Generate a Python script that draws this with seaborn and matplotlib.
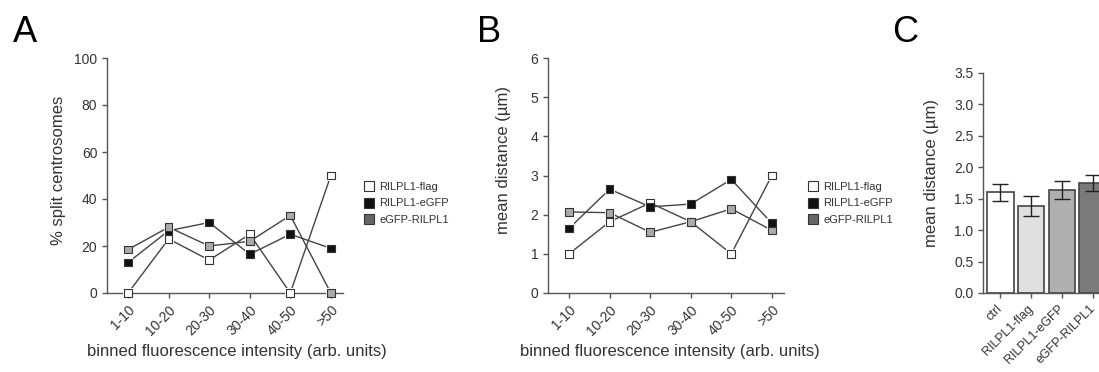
import numpy as np
import pandas as pd
import matplotlib
matplotlib.use("Agg")
import matplotlib.pyplot as plt
import matplotlib.transforms as mtransforms
from matplotlib.lines import Line2D
import seaborn as sns

# ---------------------------------------------------------------
# data
# ---------------------------------------------------------------
bins = ["1-10", "10-20", "20-30", "30-40", "40-50", ">50"]
series = ["RILPL1-flag", "RILPL1-eGFP", "eGFP-RILPL1"]

# panel A: % split centrosomes
pct_flag = [0, 23, 14, 25, 0, 50]
pct_egfp = [13, 26.5, 30, 16.5, 25, 19]
pct_gfp_n = [18.5, 28, 20, 22, 33, 0]

# panel B: mean distance (um)
dist_flag = [1.0, 1.82, 2.3, 1.82, 1.0, 3.0]
dist_egfp = [1.65, 2.65, 2.2, 2.27, 2.9, 1.78]
dist_gfp_n = [2.07, 2.05, 1.55, 1.82, 2.15, 1.6]

# panel C: mean distance per construct
conds = ["ctrl", "RILPL1-flag", "RILPL1-eGFP", "eGFP-RILPL1"]
means = [1.6, 1.38, 1.64, 1.75]
sems = [0.14, 0.16, 0.14, 0.12]

# ---------------------------------------------------------------
# style
# ---------------------------------------------------------------
sns.set_style("ticks")
plt.rcParams["font.family"] = ["Liberation Sans", "DejaVu Sans"]
TXT = "#333333"
SPINE = "#555555"
LINE = "#444444"
TICK_FS = 10
LABEL_FS = 12
marker_fill = {"RILPL1-flag": "white", "RILPL1-eGFP": "#111111", "eGFP-RILPL1": "#aaaaaa"}
legend_fill = ["white", "#111111", "#666666"]
bar_colors = ["white", "#e0e0e0", "#b0b0b0", "#7a7a7a"]

W, H = 1099, 372
fig = plt.figure(figsize=(W / 100, H / 100), dpi=100)


def long_df(a, b, c):
    return pd.DataFrame({
        "pos": list(range(len(bins))) * 3,
        "series": np.repeat(series, len(bins)),
        "value": list(a) + list(b) + list(c),
    })


def style_axes(ax):
    sns.despine(ax=ax)
    for s in ["left", "bottom"]:
        ax.spines[s].set_color(SPINE)
        ax.spines[s].set_linewidth(1.0)
    ax.tick_params(colors=SPINE, labelcolor=TXT, labelsize=TICK_FS, length=3.5, width=1.0)


def line_panel(ax, df, ylim, yticks, ylabel, ylab_xy, legend_left):
    sns.lineplot(data=df, x="pos", y="value", units="series", estimator=None,
                 color=LINE, lw=1.0, sort=False, ax=ax, zorder=2)
    # white halo so lines stop a little short of the markers
    sns.scatterplot(data=df, x="pos", y="value", color="white", marker="s", s=55,
                    linewidth=0, legend=False, ax=ax, zorder=3, clip_on=False)
    sns.scatterplot(data=df, x="pos", y="value", hue="series", palette=marker_fill,
                    marker="s", s=30, edgecolor="#333333", linewidth=0.8,
                    legend=False, ax=ax, zorder=4, clip_on=False)
    ax.set_xlim(-0.52, 5.3)
    ax.set_ylim(*ylim)
    ax.set_yticks(yticks)
    ax.set_xticks(range(len(bins)))
    ax.set_xticklabels(bins, rotation=45, ha="right", rotation_mode="anchor")
    style_axes(ax)
    ax.set_ylabel(ylabel, fontsize=LABEL_FS, color=TXT)
    ax.yaxis.set_label_coords(*ylab_xy)
    ax.set_xlabel("binned fluorescence intensity (arb. units)", fontsize=LABEL_FS, color=TXT)
    handles = [Line2D([], [], ls="none", marker="s", markersize=6.5, markerfacecolor=f,
                      markeredgecolor="#333333", markeredgewidth=0.8) for f in legend_fill]
    ax.legend(handles, series, loc="upper left", frameon=False, fontsize=8,
              bbox_to_anchor=(legend_left / W, 1 - 176 / H), bbox_transform=fig.transFigure,
              borderpad=0, handlelength=0.8, handletextpad=0.5, labelspacing=0.62,
              labelcolor=TXT)


# ---------------------------------------------------------------
# A
# ---------------------------------------------------------------
axA = fig.add_axes([107 / W, 1 - 293 / H, 236 / W, 235 / H])
line_panel(axA, long_df(pct_flag, pct_egfp, pct_gfp_n), (0, 100), range(0, 101, 20),
           "% split centrosomes", (-0.175, 0.52), 359)
axA.xaxis.set_label_coords(0.55, -0.215)

# ---------------------------------------------------------------
# B
# ---------------------------------------------------------------
axB = fig.add_axes([548 / W, 1 - 293 / H, 236 / W, 235 / H])
line_panel(axB, long_df(dist_flag, dist_egfp, dist_gfp_n), (0, 6), range(0, 7),
           "mean distance (\u00b5m)", (-0.157, 0.566), 803)
axB.xaxis.set_label_coords(0.517, -0.215)

# ---------------------------------------------------------------
# C (runs off the right edge, like the original)
# ---------------------------------------------------------------
axC = fig.add_axes([983 / W, 1 - 293 / H, 127 / W, 220 / H])
sns.barplot(x=conds, y=means, hue=conds, palette=bar_colors, legend=False, width=0.87,
            edgecolor="#444444", linewidth=1.2, ax=axC)
axC.errorbar(range(len(conds)), means, yerr=sems, fmt="none", ecolor="#222222",
             elinewidth=1.0, capsize=6, capthick=1.0, zorder=5)
axC.set_xlim(-0.55, 3.55)
axC.set_ylim(0, 3.5)
axC.set_yticks(np.arange(0, 3.51, 0.5))
axC.set_yticklabels([f"{v:.1f}" for v in np.arange(0, 3.51, 0.5)])
axC.set_xticks(range(len(conds)))
axC.set_xticklabels(conds, rotation=45, ha="right", rotation_mode="anchor")
style_axes(axC)
axC.tick_params(axis="x", labelsize=9)
# nudge the rotated labels a few pixels left so the last one stays on the canvas
shift = mtransforms.ScaledTranslation(-4 / 100, 0, fig.dpi_scale_trans)
for lab in axC.get_xticklabels():
    lab.set_transform(lab.get_transform() + shift)
axC.set_ylabel("mean distance (\u00b5m)", fontsize=LABEL_FS, color=TXT)
axC.yaxis.set_label_coords(-0.346, 0.545)

# panel letters
for letter, x in [("A", 13), ("B", 477), ("C", 892)]:
    fig.text(x / W, 1 - 33 / H, letter, fontsize=26, va="center", ha="left", color="black")

fig.savefig("out.png", dpi=100)
